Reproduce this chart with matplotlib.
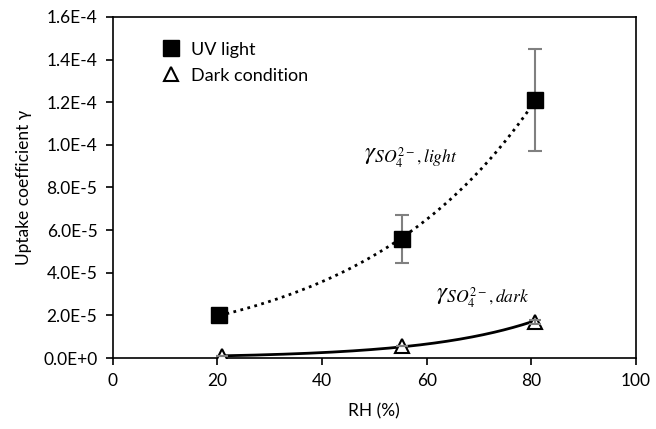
import numpy as np
import matplotlib
matplotlib.use("Agg")
import matplotlib.pyplot as plt
from matplotlib.ticker import FuncFormatter

plt.rcParams['font.family'] = ['Lato', 'DejaVu Sans']
plt.rcParams['mathtext.fontset'] = 'stix'

# Data
rh_light = [20.4, 55.2, 80.7]
gamma_light = [2.0e-5, 5.6e-5, 1.21e-4]
err_light = [0.3e-5, 1.12e-5, 2.4e-5]

rh_dark = [20.9, 55.3, 80.7]
gamma_dark = [1.0e-6, 5.5e-6, 1.7e-5]
err_dark = [0.0, 0.0, 1.0e-6]

x_ticks = [0, 20, 40, 60, 80, 100]
y_ticks = [0, 2e-5, 4e-5, 6e-5, 8e-5, 1e-4, 1.2e-4, 1.4e-4, 1.6e-4]

fig = plt.figure(figsize=(6.56, 4.29), dpi=100)
ax = fig.add_axes([0.1718, 0.1655, 0.9695 - 0.1718, 0.9604 - 0.1655])

# exponential trendlines (fitted to the data)
def expfit(x, y):
    b, lna = np.polyfit(x, np.log(y), 1)
    xs = np.linspace(min(x), max(x), 200)
    return xs, np.exp(lna + b * xs)

xs, ys = expfit(rh_light, gamma_light)
ax.plot(xs, ys, color='black', linestyle=(0, (1, 1.6)), linewidth=2.0, zorder=2)
xs, ys = expfit(rh_dark, gamma_dark)
ax.plot(xs, ys, color='black', linestyle='-', linewidth=2.0, zorder=2)

ax.errorbar(rh_light, gamma_light, yerr=err_light, fmt='none',
            ecolor='#808080', elinewidth=1.5, capsize=5, capthick=1.5, zorder=2.5)
ax.errorbar(rh_dark, gamma_dark, yerr=err_dark, fmt='none',
            ecolor='#808080', elinewidth=1.5, capsize=4, capthick=1.5, zorder=3.5)
ax.plot(rh_light, gamma_light, 's', color='black', markersize=11.5,
        label='UV light', zorder=3)
ax.plot(rh_dark, gamma_dark, '^', markerfacecolor='white', markeredgecolor='black',
        markeredgewidth=1.5, markersize=9.5, label='Dark condition', zorder=3)

ax.set_xlim(0, 100)
ax.set_ylim(0, 1.6e-4)
ax.set_xticks(x_ticks)
ax.set_yticks(y_ticks)

def fmt(v, pos):
    if v == 0:
        return '0.0E+0'
    e = int(np.floor(np.log10(abs(v)) + 1e-9))
    m = v / 10 ** e
    return f"{m:.1f}E{e}"

ax.yaxis.set_major_formatter(FuncFormatter(fmt))
ax.tick_params(axis='both', direction='out', length=5, width=1.2, labelsize=12.5,
               colors='black', pad=6)
for s in ax.spines.values():
    s.set_linewidth(1.2)

ax.set_xlabel('RH (%)', fontsize=12.5, labelpad=10)
ax.set_ylabel('Uptake coefficient γ', fontsize=12.5, labelpad=8)

ax.text(48.0, 9.4e-5, r'$\gamma_{SO_4^{2-},light}$', fontsize=18, va='center', ha='left')
ax.text(61.8, 2.85e-5, r'$\gamma_{SO_4^{2-},dark}$', fontsize=18, va='center', ha='left')

leg = ax.legend(loc='upper left', bbox_to_anchor=(0.06, 0.975), frameon=False,
                fontsize=13, handletextpad=0.5, labelspacing=0.55, handlelength=1.2)

fig.savefig('out.png', dpi=100)
